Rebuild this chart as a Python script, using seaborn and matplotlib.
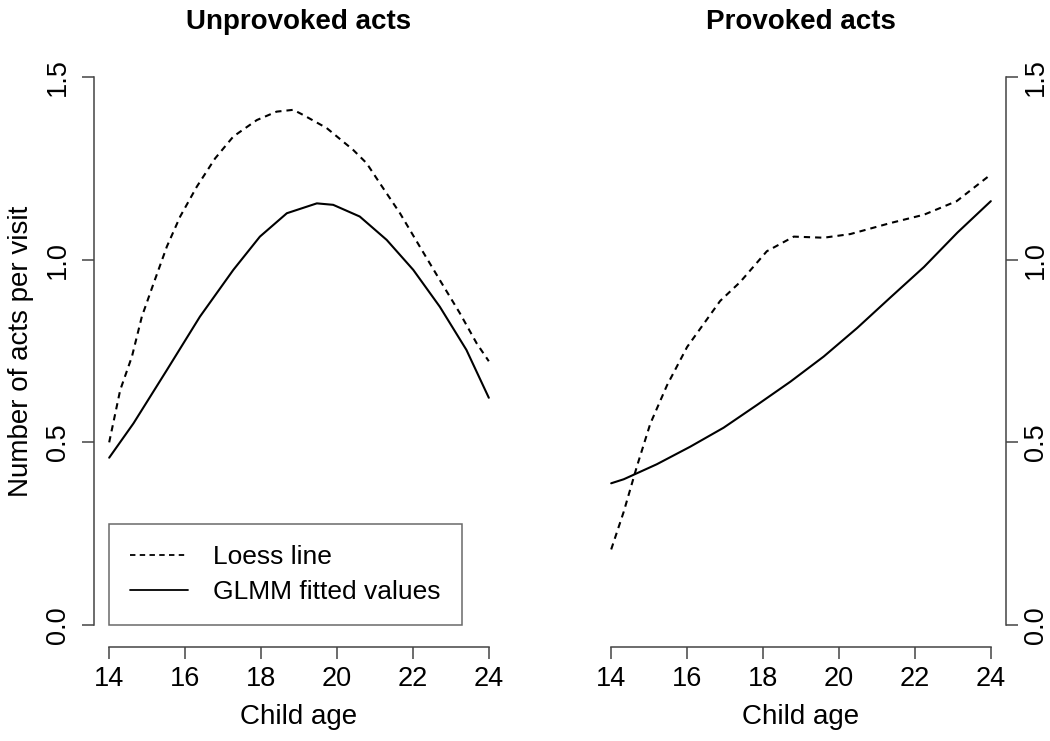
import matplotlib
matplotlib.use("Agg")
import matplotlib.pyplot as plt
import seaborn as sns
import pandas as pd
from matplotlib.lines import Line2D

# values
unprov_loess_age = [14.0, 14.29, 14.6, 14.86, 15.17, 15.52, 15.87, 16.31, 16.79, 17.27,
                    17.89, 18.41, 18.85, 19.11, 19.73, 20.43, 20.78, 21.13, 21.66,
                    22.18, 22.71, 23.24, 23.68, 24.0]
unprov_loess_val = [0.50, 0.643, 0.735, 0.844, 0.935, 1.036, 1.118, 1.20, 1.277, 1.337,
                    1.382, 1.405, 1.41, 1.396, 1.36, 1.30, 1.264, 1.209, 1.127,
                    1.036, 0.944, 0.853, 0.771, 0.722]
unprov_glmm_age = [14.0, 14.64, 15.52, 16.39, 17.27, 17.97, 18.68, 19.47, 19.9, 20.6,
                   21.31, 22.01, 22.71, 23.41, 24.0]
unprov_glmm_val = [0.458, 0.552, 0.698, 0.844, 0.972, 1.063, 1.127, 1.154, 1.15, 1.118,
                   1.054, 0.972, 0.871, 0.753, 0.622]

prov_loess_age = [14, 14.33, 14.68, 15.03, 15.47, 16.0, 16.87, 17.4, 18.1, 18.81,
                  19.6, 20.3, 21.35, 22.24, 23.1, 24]
prov_loess_val = [0.207, 0.31, 0.435, 0.551, 0.656, 0.761, 0.887, 0.939, 1.023, 1.063,
                  1.06, 1.07, 1.10, 1.123, 1.16, 1.233]
prov_glmm_age = [14, 14.33, 15.2, 16.08, 16.96, 17.85, 18.72, 19.6, 20.48, 21.36, 22.24, 23.12, 24]
prov_glmm_val = [0.388, 0.399, 0.44, 0.488, 0.54, 0.603, 0.666, 0.735, 0.813, 0.897, 0.98, 1.074, 1.16]

panel_titles = ["Unprovoked acts", "Provoked acts"]
series_names = ["Loess line", "GLMM fitted values"]
x_ticks = [14, 16, 18, 20, 22, 24]
y_ticks = [0.0, 0.5, 1.0, 1.5]

sns.set_style("white")
plt.rcParams['font.family'] = ['Liberation Sans', 'DejaVu Sans']
plt.rcParams['text.color'] = 'black'
plt.rcParams['axes.labelcolor'] = 'black'

fig = plt.figure(figsize=(10.5, 7.41), dpi=100)
ax_left = fig.add_axes([94 / 1050, 94 / 741, 410 / 1050, 592 / 741])
ax_right = fig.add_axes([596 / 1050, 94 / 741, 410 / 1050, 592 / 741])

panels = [
    (ax_left, unprov_loess_age, unprov_loess_val, unprov_glmm_age, unprov_glmm_val),
    (ax_right, prov_loess_age, prov_loess_val, prov_glmm_age, prov_glmm_val),
]

axis_col = "#444444"
dash_pat = (3, 2.4)
for i, (ax, la, lv, ga, gv) in enumerate(panels):
    df = pd.DataFrame({
        "age": la + ga,
        "val": lv + gv,
        "series": [series_names[0]] * len(la) + [series_names[1]] * len(ga),
    })
    sns.lineplot(data=df, x="age", y="val", style="series",
                 dashes={series_names[0]: dash_pat, series_names[1]: ""},
                 color="black", linewidth=1.5, ax=ax, legend=False)

    ax.set_xlim(13.6, 24.4)
    ax.set_ylim(-0.06, 1.56)
    ax.set_xticks(x_ticks)
    ax.set_yticks(y_ticks)
    ax.set_yticklabels([f"{t:.1f}" for t in y_ticks], rotation=90, va="center")
    ax.set_title(panel_titles[i], fontsize=20, fontweight="bold", pad=19)
    ax.set_xlabel("Child age", fontsize=20, labelpad=9)

    for s in ax.spines.values():
        s.set_visible(False)
    ax.spines["bottom"].set_visible(True)
    ax.spines["bottom"].set_bounds(14, 24)
    side = "left" if i == 0 else "right"
    ax.spines[side].set_visible(True)
    ax.spines[side].set_bounds(0, 1.5)
    for s in ("bottom", side):
        ax.spines[s].set_color(axis_col)
        ax.spines[s].set_linewidth(1.1)

    ax.tick_params(axis="both", length=8.5, width=1.1, color=axis_col,
                   labelsize=19.5, labelcolor="black")
    ax.tick_params(axis="x", pad=5, bottom=True)
    if i == 0:
        ax.tick_params(axis="y", left=True, right=False, labelleft=True,
                       labelright=False, pad=8)
        ax.set_ylabel("Number of acts per visit", fontsize=20, labelpad=8)
    else:
        ax.yaxis.tick_right()
        ax.tick_params(axis="y", left=False, right=True, labelleft=False,
                       labelright=True, pad=4)
        ax.set_ylabel("")
    ax.grid(False)

handles = [Line2D([], [], color="black", linewidth=1.3, dashes=dash_pat),
           Line2D([], [], color="black", linewidth=1.3)]
leg = ax_left.legend(handles, series_names, loc="lower left",
                     bbox_to_anchor=(15 / 410, 22 / 592), fontsize=19,
                     frameon=True, fancybox=False, handlelength=2.2,
                     handletextpad=0.95, borderpad=0.8, labelspacing=0.42,
                     borderaxespad=0, edgecolor=axis_col)
leg.get_frame().set_linewidth(1.1)

fig.savefig("out.png", dpi=100)
